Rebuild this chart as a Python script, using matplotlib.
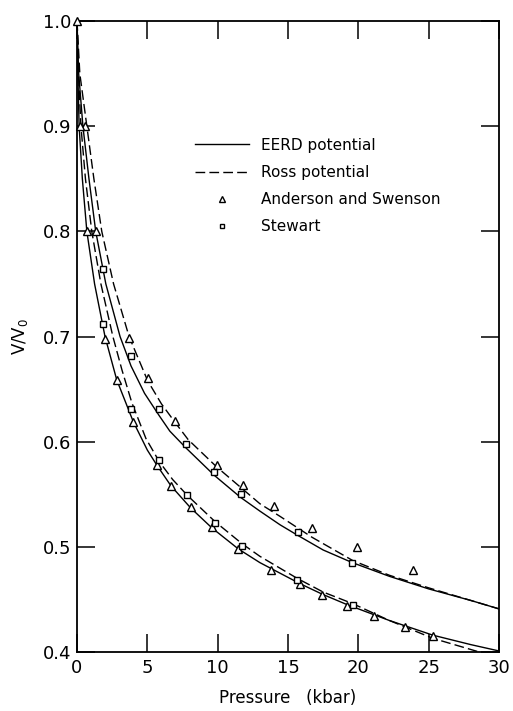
import numpy as np
import matplotlib.pyplot as plt

plt.rcParams['font.family'] = ['DejaVu Sans']

# EERD potential (solid) and Ross potential (dashed), upper and lower solids
eerd_up_p = [0, 0.12, 0.42, 0.85, 1.33, 2.05, 3.06, 3.84, 4.8, 5.83, 6.6, 7.75, 9.76,
             11.63, 13.0, 14.43, 15.68, 17.5, 19.57, 22.2, 25.0, 28.0, 30.0]
eerd_up_v = [1.0, 0.95, 0.90, 0.85, 0.80, 0.75, 0.70, 0.672, 0.646, 0.625, 0.610, 0.594, 0.568,
             0.547, 0.534, 0.521, 0.511, 0.497, 0.485, 0.472, 0.460, 0.449, 0.441]

ross_up_p = [0, 0.2, 0.7, 1.2, 1.76, 2.6, 3.70, 5.02, 6.0, 6.99, 7.9, 9.93, 11.77,
             13.0, 14.43, 16.72, 19.6, 22.2, 25.0, 28.0, 30.0]
ross_up_v = [1.0, 0.95, 0.90, 0.85, 0.80, 0.75, 0.70, 0.658, 0.636, 0.618, 0.602, 0.576, 0.555,
             0.541, 0.529, 0.509, 0.487, 0.473, 0.461, 0.449, 0.441]

eerd_lo_p = [0, 0.06, 0.15, 0.38, 0.70, 1.25, 1.99, 2.82, 4.0, 5.0, 5.66, 6.68, 8.08,
             9.59, 11.47, 13.0, 15.85, 17.43, 19.21, 22.2, 25.3, 28.0, 30.0]
eerd_lo_v = [1.0, 0.95, 0.90, 0.85, 0.80, 0.75, 0.70, 0.659, 0.619, 0.592, 0.578, 0.558, 0.537,
             0.518, 0.498, 0.485, 0.465, 0.455, 0.445, 0.430, 0.416, 0.407, 0.401]

ross_lo_p = [0, 0.1, 0.28, 0.6, 1.05, 1.7, 2.55, 3.2, 3.9, 4.9, 5.85, 6.8, 7.84,
             9.81, 11.73, 13.0, 15.66, 17.5, 19.6, 22.2, 25.3, 28.6]
ross_lo_v = [1.0, 0.95, 0.90, 0.85, 0.80, 0.75, 0.70, 0.668, 0.637, 0.603, 0.581, 0.564, 0.549,
             0.524, 0.503, 0.491, 0.470, 0.457, 0.446, 0.430, 0.413, 0.400]

# Anderson and Swenson (triangles)
as_p = [0, 0.57, 1.35, 3.70, 5.02, 6.99, 9.93, 11.77, 14.0, 16.72, 19.94, 23.9,
        0.21, 0.69, 1.99, 2.82, 4.0, 5.66, 6.68, 8.08, 9.59, 11.47, 13.76, 15.85,
        17.43, 19.21, 21.1, 23.3, 25.3]
as_v = [1.0, 0.9, 0.8, 0.699, 0.661, 0.620, 0.578, 0.559, 0.539, 0.518, 0.500, 0.478,
        0.9, 0.8, 0.698, 0.659, 0.619, 0.578, 0.558, 0.538, 0.519, 0.498, 0.478, 0.465,
        0.454, 0.444, 0.434, 0.424, 0.415]

# Stewart (squares)
st_p = [1.87, 3.84, 5.83, 7.75, 9.76, 11.63, 15.68, 19.57,
        1.87, 3.81, 5.85, 7.84, 9.81, 11.73, 15.66, 19.59]
st_v = [0.764, 0.681, 0.631, 0.598, 0.571, 0.550, 0.514, 0.485,
        0.712, 0.631, 0.583, 0.549, 0.523, 0.501, 0.468, 0.445]

fig = plt.figure(figsize=(5.13, 7.11), dpi=100)
ax = fig.add_axes([77 / 513, 1 - 652 / 711, 422 / 513, 631 / 711])

lw = 1.0
dash = (7, 3)
ax.plot(eerd_up_p, eerd_up_v, color='black', lw=lw, label='EERD potential')
ax.plot(ross_up_p, ross_up_v, color='black', lw=lw, dashes=dash, label='Ross potential')
ax.plot(eerd_lo_p, eerd_lo_v, color='black', lw=lw)
ax.plot(ross_lo_p, ross_lo_v, color='black', lw=lw, dashes=dash)

ax.plot(as_p, as_v, linestyle='none', marker='^', ms=5.5, mfc='white', mec='black',
        mew=1.0, zorder=3, label='Anderson and Swenson', clip_on=False)
ax.plot(st_p, st_v, linestyle='none', marker='s', ms=4.2, mfc='white', mec='black',
        mew=1.0, zorder=3, label='Stewart', clip_on=False)

ax.set_xlim(0, 30)
ax.set_ylim(0.4, 1.0)
ax.set_xticks([0, 5, 10, 15, 20, 25, 30])
ax.set_yticks([0.4, 0.5, 0.6, 0.7, 0.8, 0.9, 1.0])
ax.set_xticklabels(['0', '5', '10', '15', '20', '25', '30'])
ax.set_yticklabels(['0.4', '0.5', '0.6', '0.7', '0.8', '0.9', '1.0'])
ax.tick_params(direction='in', length=13, width=1.1, top=True, right=True,
               labelsize=13)
ax.tick_params(axis='y', pad=4)
ax.tick_params(axis='x', pad=5)
for s in ax.spines.values():
    s.set_linewidth(1.3)

ax.set_xlabel('Pressure   (kbar)', fontsize=12, labelpad=9)
ax.set_ylabel('V/V$_0$', fontsize=12, labelpad=9)

leg = ax.legend(loc='upper left', bbox_to_anchor=(0.28, 0.815), frameon=False,
                fontsize=11, handlelength=3.5, handletextpad=0.8, labelspacing=0.8,
                borderpad=0, borderaxespad=0, markerscale=0.75, numpoints=1)

fig.savefig('out.png', dpi=100)
